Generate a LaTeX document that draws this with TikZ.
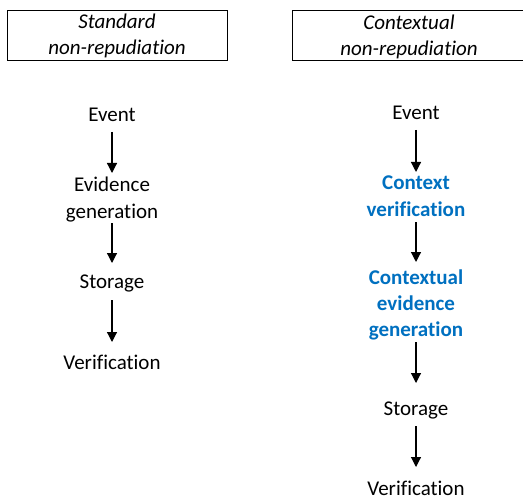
\documentclass[tikz,border=0pt]{standalone}
\usepackage{fontspec}
\setmainfont[Ligatures={NoCommon}]{Carlito}
\usetikzlibrary{arrows.meta}
\definecolor{ctxblue}{RGB}{0,112,192}
\begin{document}
\begin{tikzpicture}[x=1bp,y=-1bp,
  lbl/.style={inner sep=0pt, align=center, anchor=base,
    font=\fontsize{21bp}{26bp}\selectfont},
  ttl/.style={lbl, font=\fontsize{21bp}{26bp}\selectfont\itshape},
  hl/.style={lbl, text=ctxblue, font=\fontsize{21bp}{26bp}\selectfont\bfseries},
  frame/.style={draw=black, line width=1bp, inner sep=0pt},
  arr/.style={draw=black, line width=1.2bp, -{Triangle[width=10bp,length=10bp]}}]
\useasboundingbox (0,0) rectangle (523,501);
\clip (0,0) rectangle (523,501);
% title boxes
\node[frame, minimum width=220bp, minimum height=50bp] (lbox) at (117.5,35.5) {};
\node[ttl] (ltitle) at (117,55) {Standard\\non-repudiation};
\node[frame, minimum width=234bp, minimum height=50bp] (rbox) at (409,35.5) {};
\node[ttl] (rtitle) at (409,56) {Contextual\\non-repudiation};
% left column
\node[lbl] (l1) at (112,122) {Event};
\node[lbl] (l2) at (112,218) {Evidence\\generation};
\node[lbl] (l3) at (112,288) {Storage};
\node[lbl] (l4) at (112,369) {Verification};
\draw[arr] (l1.south |- 0,132) -- (l2.north |- 0,173);
\draw[arr] (l2.south |- 0,223) -- (l3.north |- 0,263);
\draw[arr] (l3.south |- 0,300) -- (l4.north |- 0,342);
% right column
\node[lbl] (r1) at (416,120) {Event};
\node[hl] (r2) at (416,216) {Context\\verification};
\node[hl] (r3) at (416,336) {Contextual\\evidence\\generation};
\node[lbl] (r4) at (416,415) {Storage};
\node[lbl] (r5) at (416,495) {Verification};
\draw[arr] (r1.south |- 0,130) -- (r2.north |- 0,172);
\draw[arr] (r2.south |- 0,222) -- (r3.north |- 0,262);
\draw[arr] (r3.south |- 0,342) -- (r4.north |- 0,383);
\draw[arr] (r4.south |- 0,426) -- (r5.north |- 0,467);
\end{tikzpicture}
\end{document}
